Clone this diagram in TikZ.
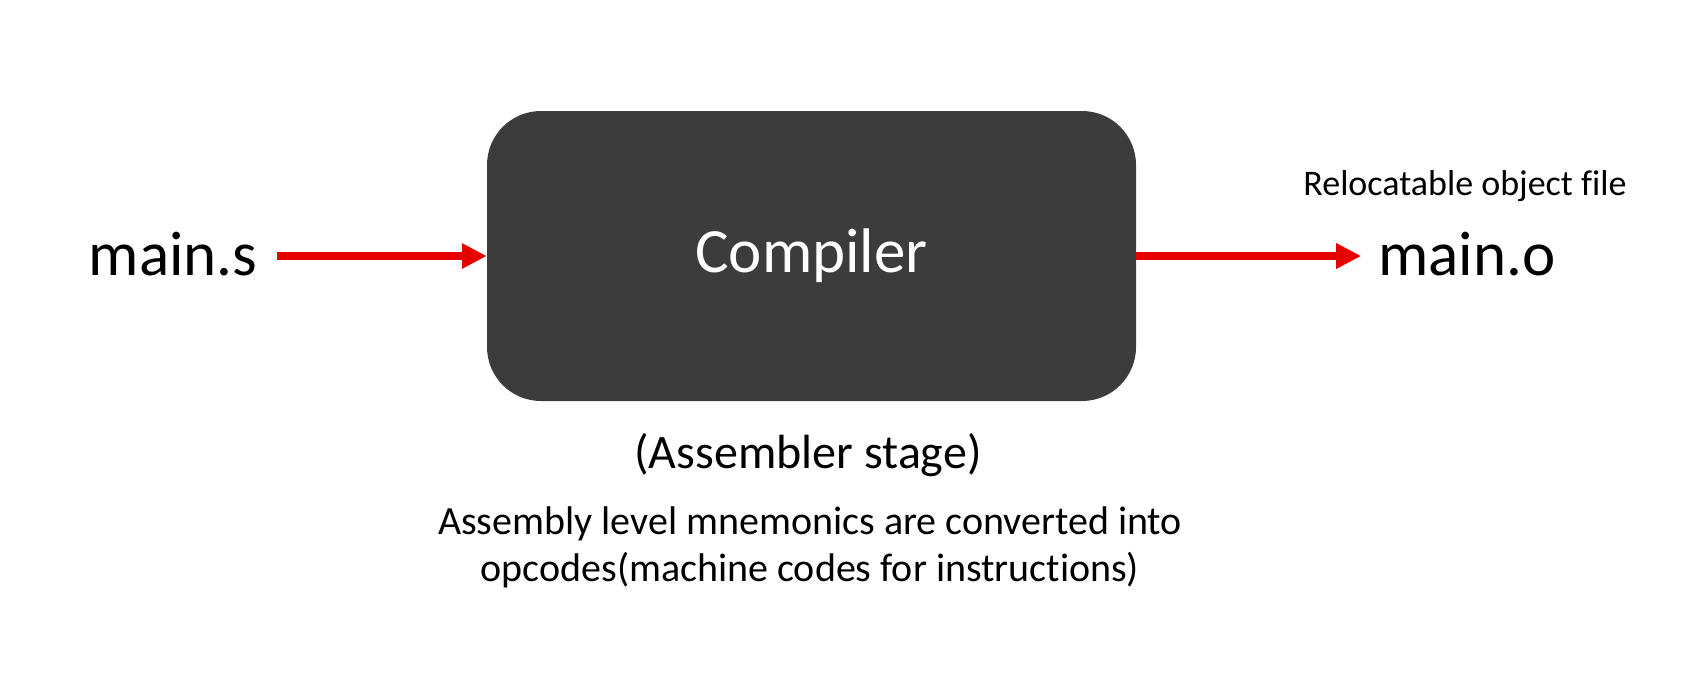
\documentclass[tikz,border=0pt]{standalone}
\usepackage{fontspec}
\setmainfont{Carlito}[Ligatures=NoCommon]
\usetikzlibrary{arrows.meta,positioning}

\definecolor{boxgrey}{HTML}{3C3C3C}
\definecolor{arrred}{HTML}{E60000}

\begin{document}
\begin{tikzpicture}[
  x=1pt,y=-1pt,
  >={Triangle[length=25pt,width=24pt]},
  stagebox/.style={rounded corners=54pt,fill=boxgrey,draw=none,minimum width=649pt,minimum height=290pt,text=white,font=\fontsize{63}{75}\selectfont},
  file/.style={inner sep=0pt,anchor=base,font=\fontsize{63}{75}\selectfont},
  note/.style={inner sep=0pt,anchor=base,align=center},
  arr/.style={->,line width=7.5pt,draw=arrred},
]
\useasboundingbox (0,0) rectangle (1685,685);

\node[stagebox] (compiler) at (811.5,256) {Compiler};
\node[file] (source) at (173,275) {main.s};
\node[file] (object) at (1467,275) {main.o};
\node[note,font=\fontsize{36}{43}\selectfont] (objnote) at (1465,195) {Relocatable object file};
\node[note,font=\fontsize{48}{58}\selectfont] (stage) at (808,468) {(Assembler stage)};
\node[note,anchor=north,font=\fontsize{40}{47}\selectfont] (desc) at (810,507) {Assembly level mnemonics are converted into\\opcodes(machine codes for instructions)};

\draw[arr,shorten <=19pt] (source.east |- compiler.west) -- (compiler.west);
\draw[arr,shorten >=17pt] (compiler.east) -- (object.west |- compiler.east);

\end{tikzpicture}
\end{document}
